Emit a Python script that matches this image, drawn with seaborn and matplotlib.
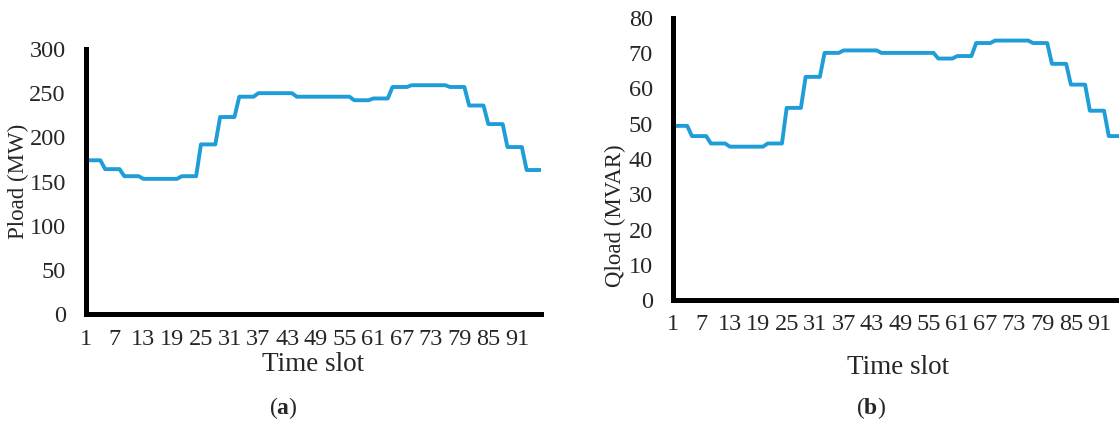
import numpy as np
import pandas as pd
import matplotlib
matplotlib.use("Agg")
import matplotlib.pyplot as plt
import seaborn as sns

# Active load per 15-minute time slot (MW)
p_load = [174, 174, 174, 174, 164, 164, 164, 164, 156, 156, 156, 156,
          153, 153, 153, 153, 153, 153, 153, 153, 156, 156, 156, 156,
          192, 192, 192, 192, 223, 223, 223, 223, 246, 246, 246, 246,
          250, 250, 250, 250, 250, 250, 250, 250, 246, 246, 246, 246,
          246, 246, 246, 246, 246, 246, 246, 246, 242, 242, 242, 242,
          244, 244, 244, 244, 257, 257, 257, 257, 259, 259, 259, 259,
          259, 259, 259, 259, 257, 257, 257, 257, 236, 236, 236, 236,
          215, 215, 215, 215, 189, 189, 189, 189, 163, 163, 163, 163]

# Reactive load per 15-minute time slot (MVAR)
q_load = [49.4, 49.4, 49.4, 49.4, 46.5, 46.5, 46.5, 46.5, 44.4, 44.4, 44.4, 44.4,
          43.5, 43.5, 43.5, 43.5, 43.5, 43.5, 43.5, 43.5, 44.4, 44.4, 44.4, 44.4,
          54.5, 54.5, 54.5, 54.5, 63.3, 63.3, 63.3, 63.3, 70.1, 70.1, 70.1, 70.1,
          70.8, 70.8, 70.8, 70.8, 70.8, 70.8, 70.8, 70.8, 70.1, 70.1, 70.1, 70.1,
          70.1, 70.1, 70.1, 70.1, 70.1, 70.1, 70.1, 70.1, 68.5, 68.5, 68.5, 68.5,
          69.2, 69.2, 69.2, 69.2, 72.9, 72.9, 72.9, 72.9, 73.6, 73.6, 73.6, 73.6,
          73.6, 73.6, 73.6, 73.6, 72.9, 72.9, 72.9, 72.9, 67.0, 67.0, 67.0, 67.0,
          61.1, 61.1, 61.1, 61.1, 53.7, 53.7, 53.7, 53.7, 46.5, 46.5, 46.5, 46.5]

time_slot = list(range(1, 97))
x_ticks = list(range(1, 92, 6))
p_ticks = [0, 50, 100, 150, 200, 250, 300]
q_ticks = [0, 10, 20, 30, 40, 50, 60, 70, 80]

df = pd.DataFrame({"slot": time_slot, "P": p_load, "Q": q_load})

sns.set_style("white")
plt.rcParams["font.family"] = ["Liberation Serif", "DejaVu Serif"]
plt.rcParams["mathtext.fontset"] = "custom"
plt.rcParams["mathtext.rm"] = "Liberation Serif"
plt.rcParams["mathtext.bf"] = "Liberation Serif:bold"

W, H = 1119, 428
fig = plt.figure(figsize=(W / 100, H / 100), dpi=100)


def px_axes(left, right, top, bottom):
    return fig.add_axes([left / W, 1 - bottom / H, (right - left) / W, (bottom - top) / H])


line_color = "#1f9dd8"
tick_fs = 17.5


def style(ax, ylim, yticks, ylabel, ylab_xy, xlab_y, xpad):
    ax.set_xlim(1, 96)
    ax.set_ylim(*ylim)
    ax.set_xticks(x_ticks)
    ax.set_xticklabels([str(t) for t in x_ticks])
    ax.set_yticks(yticks)
    ax.set_yticklabels([str(t) for t in yticks])
    ax.tick_params(axis="x", length=0, pad=xpad, labelsize=tick_fs)
    ax.tick_params(axis="y", length=0, pad=14.5, labelsize=tick_fs)
    for s in ("top", "right"):
        ax.spines[s].set_visible(False)
    for s in ("left", "bottom"):
        ax.spines[s].set_linewidth(3.6)
        ax.spines[s].set_color("black")
        ax.spines[s].set_capstyle("projecting")
    ax.set_xlabel("Time slot", fontsize=19.5)
    ax.xaxis.set_label_coords(0.5, xlab_y)
    ax.xaxis.label.set_va("center")
    ax.set_ylabel(ylabel, fontsize=16.5)
    ax.yaxis.set_label_coords(*ylab_xy)
    ax.yaxis.label.set_va("center")
    ax.grid(False)
    ax.set_facecolor("none")


# (a) active load
ax1 = px_axes(86, 541, 49, 314)
sns.lineplot(data=df, x="slot", y="P", ax=ax1, color=line_color, linewidth=2.8)
style(ax1, (0, 300), p_ticks, "Pload (MW)", (-0.148, 0.5), -0.192, 11)

# (b) reactive load
ax2 = px_axes(673, 1123, 18, 300)
sns.lineplot(data=df, x="slot", y="Q", ax=ax2, color=line_color, linewidth=2.8)
style(ax2, (0, 80), q_ticks, "Qload (MVAR)", (-0.127, 0.298), -0.238, 10)

fig.text(283 / W, 1 - 408 / H, r"($\mathbf{a}$)", ha="center", va="center", fontsize=17)
fig.text(871 / W, 1 - 408 / H, r"($\mathbf{b}$)", ha="center", va="center", fontsize=17)

fig.savefig("out.png", dpi=100)
